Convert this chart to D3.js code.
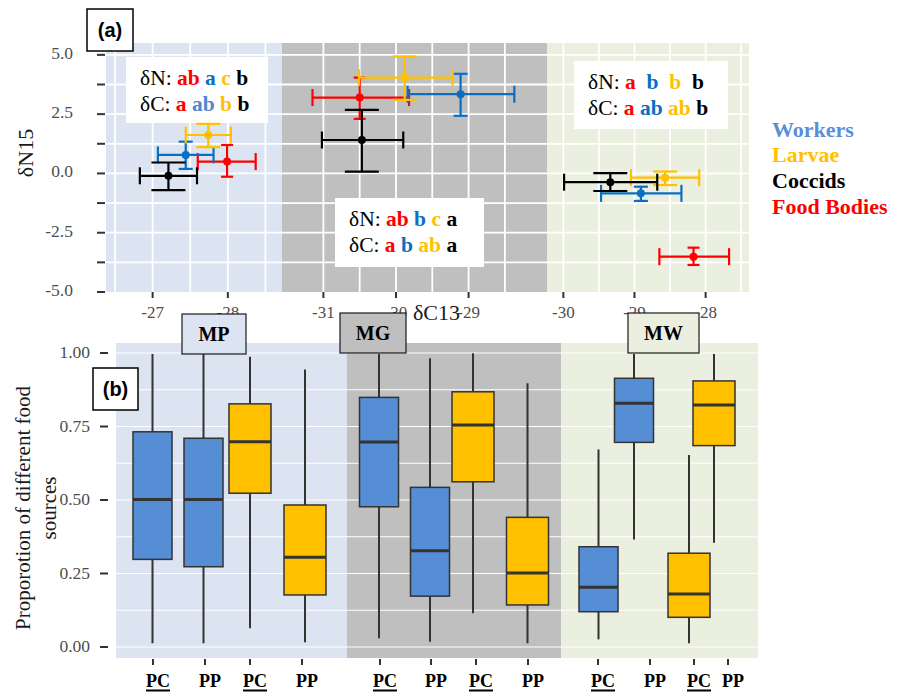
<!DOCTYPE html>
<html>
<head>
<meta charset="utf-8">
<script src="https://cdn.jsdelivr.net/npm/d3@7"></script>
<style>
  body { margin: 0; background: #fff; }
</style>
</head>
<body>
<svg id="chart" width="898" height="693" font-family="Liberation Serif, DejaVu Serif, serif"></svg>
<script>
// ---------- data ----------
const sites = ["MP", "MG", "MW"];
const groups = ["Food Bodies", "Workers", "Larvae", "Coccids"];

// isotope means per group: [d13C, d13C err a, d13C err b, d15N, d15N low, d15N high]
const isoMP = [
  [-27.99, -27.60, -28.37, 0.50, -0.14, 1.20],
  [-27.44, -27.07, -27.81, 0.78, 0.19, 1.34],
  [-27.74, -27.44, -28.04, 1.62, 1.11, 2.09],
  [-27.21, -26.83, -27.59, -0.10, -0.70, 0.46]
];
const isoMG = [
  [-30.50, -31.15, -29.82, 3.20, 2.30, 4.04],
  [-29.11, -29.84, -28.37, 3.34, 2.43, 4.20],
  [-29.88, -30.51, -29.22, 4.04, 3.10, 4.93],
  [-30.47, -31.02, -29.90, 1.41, 0.08, 2.68]
];
const isoMW = [
  [-28.17, -28.65, -27.67, -3.51, -3.86, -3.13],
  [-28.91, -29.47, -28.34, -0.84, -1.16, -0.56],
  [-28.57, -29.05, -28.09, -0.18, -0.49, 0.08],
  [-29.34, -29.99, -28.68, -0.37, -0.74, 0.01]
];
const xDomains = [[-26.38, -28.72], [-31.57, -27.92], [-30.23, -27.39]];
const xTicksTop = [[-27, -28], [-31, -30, -29], [-30, -29, -28]];
const yTicksTop = [-5, -3.75, -2.5, -1.25, 0, 1.25, 2.5, 3.75, 5];

// significance letters, order: food bodies, workers, larvae, coccids
const lettersN = [["ab", "a", "c", "b"], ["ab", "b", "c", "a"], ["a", "b", "b", "b"]];
const lettersC = [["a", "ab", "b", "b"], ["a", "b", "ab", "a"], ["a", "ab", "ab", "b"]];

// box plots: [whisker low, Q1, median, Q3, whisker high]
const boxLabels = ["PC", "PP", "PC", "PP"];
const boxGroups = ["Workers", "Workers", "Larvae", "Larvae"];
const boxMP = [
  [0.013, 0.298, 0.502, 0.732, 0.997],
  [0.013, 0.273, 0.502, 0.710, 0.997],
  [0.064, 0.523, 0.698, 0.827, 0.987],
  [0.016, 0.177, 0.305, 0.483, 0.944]
];
const boxMG = [
  [0.030, 0.477, 0.697, 0.849, 0.997],
  [0.018, 0.173, 0.327, 0.543, 0.982],
  [0.115, 0.562, 0.755, 0.868, 0.999],
  [0.013, 0.143, 0.252, 0.441, 0.897]
];
const boxMW = [
  [0.026, 0.120, 0.203, 0.341, 0.672],
  [0.366, 0.696, 0.829, 0.914, 0.997],
  [0.013, 0.101, 0.180, 0.319, 0.653],
  [0.355, 0.685, 0.823, 0.905, 0.997]
];
const boxPos = [[1.00, 2.02, 2.95, 4.05], [5.53, 6.55, 7.41, 8.50], [9.92, 10.63, 11.73, 12.23]];
const boxTickPos = [[1.01, 2.05, 2.95, 3.99], [5.55, 6.57, 7.47, 8.51], [9.91, 10.95, 11.83, 12.51]];
const panelEdges = [0.27, 4.89, 9.17, 13.11];
const yTicksBox = [0, 0.25, 0.5, 0.75, 1];

// ---------- styles ----------
const panelFill = { MP: "#dbe4f0", MG: "#bfbfbf", MW: "#ebefdf" };
const pointColor = { "Food Bodies": "#ff0000", "Workers": "#0a6fc2", "Larvae": "#ffc000", "Coccids": "#000000" };
const legendColor = { "Workers": "#5a8fd6", "Larvae": "#ffc000", "Coccids": "#000000", "Food Bodies": "#ff0000" };
const boxFill = { "Workers": "#558ed5", "Larvae": "#ffc000" };
const boxWidth = { "Workers": 39, "Larvae": 42 };
const capW = { "Food Bodies": 12, "Workers": 14, "Larvae": 24, "Coccids": 34 };

const svg = d3.select("#chart");

// ================= panel (a) =================
const topX = [[106, 282], [282, 547], [547, 749]];
const yTop = d3.scaleLinear().domain([-5, 5.5]).range([292, 43]);
const isoData = [isoMP, isoMG, isoMW];

const annoBoxes = [
  { x: 126, y: 57, w: 142, h: 66, gapN: " ", gapC: " " },
  { x: 335, y: 198, w: 149, h: 69, gapN: " ", gapC: " " },
  { x: 574, y: 61, w: 154, h: 68, gapN: "  ", gapC: " " }
];

const gTop = svg.append("g");

sites.forEach((site, i) => {
  const xs = d3.scaleLinear().domain(xDomains[i]).range(topX[i]);
  const g = gTop.append("g");
  g.append("rect")
    .attr("x", topX[i][0]).attr("y", yTop(5.5))
    .attr("width", topX[i][1] - topX[i][0]).attr("height", yTop(-5) - yTop(5.5))
    .attr("fill", panelFill[site]);

  const lo = d3.min(xDomains[i]), hi = d3.max(xDomains[i]);
  const vGrid = d3.range(Math.ceil(lo * 2) / 2, hi, 0.5)
    .filter(d => xs(d) > d3.min(topX[i]) + 6.5 && xs(d) < d3.max(topX[i]) - 6.5);
  g.selectAll(".vg").data(vGrid).enter().append("line")
    .attr("x1", d => xs(d)).attr("x2", d => xs(d))
    .attr("y1", yTop(5.5)).attr("y2", yTop(-5))
    .attr("stroke", "#fff").attr("stroke-width", 1.8);
  g.selectAll(".hg").data(yTicksTop.filter(d => d > -5)).enter().append("line")
    .attr("x1", topX[i][0]).attr("x2", topX[i][1])
    .attr("y1", d => yTop(d)).attr("y2", d => yTop(d))
    .attr("stroke", "#fff").attr("stroke-width", 1.8);

  // x ticks
  g.selectAll(".xt").data(xTicksTop[i]).enter().append("line")
    .attr("x1", d => xs(d)).attr("x2", d => xs(d))
    .attr("y1", 292).attr("y2", 298)
    .attr("stroke", "#333").attr("stroke-width", 2);
  g.selectAll(".xl").data(xTicksTop[i]).enter().append("text")
    .attr("x", d => xs(d)).attr("y", 318)
    .attr("text-anchor", "middle").attr("font-size", 17).attr("fill", "#4d4d4d")
    .text(d => d3.format("d")(d).replace("\u2212", "-"));

  // annotation box
  const ab = annoBoxes[i];
  g.append("rect").attr("x", ab.x).attr("y", ab.y).attr("width", ab.w).attr("height", ab.h)
    .attr("fill", "#fff");
  [["\u03b4N:", lettersN[i], 28, ab.gapN], ["\u03b4C:", lettersC[i], 54, ab.gapC]].forEach(([lab, lets, dy, gap]) => {
    const t = g.append("text").attr("x", ab.x + 14).attr("y", ab.y + dy)
      .attr("font-size", 21.5).style("white-space", "pre");
    t.append("tspan").attr("fill", "#000").text(lab);
    lets.forEach((l, k) => {
      let col = pointColor[groups[k]];
      if (i === 0 && lab === "\u03b4C:" && k === 1) col = "#4f86cf";
      t.append("tspan").attr("fill", col).attr("font-weight", "bold").text((k === 0 ? " " : gap) + l);
    });
  });

  // error bars and points
  const pts = isoData[i].map((r, k) => ({ g: groups[k], c: r[0], c1: r[1], c2: r[2], n: r[3], n1: r[4], n2: r[5] }));
  const pg = g.selectAll(".pt").data(pts).enter().append("g")
    .attr("stroke", d => pointColor[d.g]).attr("fill", d => pointColor[d.g]).attr("stroke-width", 2.2);
  // horizontal (d13C)
  pg.append("line").attr("x1", d => xs(d.c1)).attr("x2", d => xs(d.c2))
    .attr("y1", d => yTop(d.n)).attr("y2", d => yTop(d.n));
  pg.append("line").attr("x1", d => xs(d.c1)).attr("x2", d => xs(d.c1))
    .attr("y1", d => yTop(d.n) - 8.5).attr("y2", d => yTop(d.n) + 8.5);
  pg.append("line").attr("x1", d => xs(d.c2)).attr("x2", d => xs(d.c2))
    .attr("y1", d => yTop(d.n) - 8.5).attr("y2", d => yTop(d.n) + 8.5);
  // vertical (d15N)
  pg.append("line").attr("x1", d => xs(d.c)).attr("x2", d => xs(d.c))
    .attr("y1", d => yTop(d.n1)).attr("y2", d => yTop(d.n2));
  pg.append("line").attr("x1", d => xs(d.c) - capW[d.g] / 2).attr("x2", d => xs(d.c) + capW[d.g] / 2)
    .attr("y1", d => yTop(d.n1)).attr("y2", d => yTop(d.n1));
  pg.append("line").attr("x1", d => xs(d.c) - capW[d.g] / 2).attr("x2", d => xs(d.c) + capW[d.g] / 2)
    .attr("y1", d => yTop(d.n2)).attr("y2", d => yTop(d.n2));
  pg.append("circle").attr("cx", d => xs(d.c)).attr("cy", d => yTop(d.n)).attr("r", 4).attr("stroke", "none");
});

// y axis (a)
gTop.selectAll(".yt").data(yTicksTop).enter().append("line")
  .attr("x1", 97).attr("x2", 105).attr("y1", d => yTop(d)).attr("y2", d => yTop(d))
  .attr("stroke", "#333").attr("stroke-width", 2);
gTop.selectAll(".yl").data(yTicksTop.filter(d => d % 2.5 === 0)).enter().append("text")
  .attr("x", 73).attr("y", d => yTop(d) + 4).attr("text-anchor", "end")
  .attr("font-size", 17.5).attr("fill", "#4d4d4d")
  .text(d => d3.format(".1f")(d).replace("\u2212", "-"));
gTop.append("text").attr("transform", "translate(33,153) rotate(-90)")
  .attr("text-anchor", "middle").attr("font-size", 22).attr("fill", "#1a1a1a").text("\u03b4N15");
gTop.append("text").attr("x", 413).attr("y", 320).attr("font-size", 22).attr("fill", "#1a1a1a").text("\u03b4C13");

// legend
const legOrder = ["Workers", "Larvae", "Coccids", "Food Bodies"];
gTop.selectAll(".leg").data(legOrder).enter().append("text")
  .attr("x", 772).attr("y", (d, k) => 136.5 + k * 25.8)
  .attr("font-size", 22).attr("font-weight", "bold")
  .attr("fill", d => legendColor[d]).text(d => d);

// ================= panel (b) =================
const xb = d3.scaleLinear().domain([0, 13]).range([102.5, 752.5]);
const yb = d3.scaleLinear().domain([0, 1]).range([647, 353]);
const boxData = [boxMP, boxMG, boxMW];
const gB = svg.append("g");

sites.forEach((site, i) => {
  gB.append("rect")
    .attr("x", xb(panelEdges[i])).attr("y", 343)
    .attr("width", xb(panelEdges[i + 1]) - xb(panelEdges[i])).attr("height", 315)
    .attr("fill", panelFill[site]);
});
gB.selectAll(".bg").data(d3.range(0, 1.001, 0.125)).enter().append("line")
  .attr("x1", xb(panelEdges[0])).attr("x2", xb(panelEdges[3]))
  .attr("y1", d => yb(d)).attr("y2", d => yb(d))
  .attr("stroke", "#fff").attr("stroke-width", 1.2);

sites.forEach((site, i) => {
  const bx = boxData[i].map((r, k) => ({ g: boxGroups[k], pos: boxPos[i][k], lo: r[0], q1: r[1], med: r[2], q3: r[3], hi: r[4] }));
  const bg = gB.selectAll(".box" + i).data(bx).enter().append("g");
  bg.append("line").attr("x1", d => xb(d.pos)).attr("x2", d => xb(d.pos))
    .attr("y1", d => yb(d.hi)).attr("y2", d => yb(d.lo))
    .attr("stroke", "#333").attr("stroke-width", 2);
  bg.append("rect")
    .attr("x", d => xb(d.pos) - boxWidth[d.g] / 2).attr("width", d => boxWidth[d.g])
    .attr("y", d => yb(d.q3)).attr("height", d => yb(d.q1) - yb(d.q3))
    .attr("fill", d => boxFill[d.g]).attr("stroke", "#333").attr("stroke-width", 1.5);
  bg.append("line")
    .attr("x1", d => xb(d.pos) - boxWidth[d.g] / 2).attr("x2", d => xb(d.pos) + boxWidth[d.g] / 2)
    .attr("y1", d => yb(d.med)).attr("y2", d => yb(d.med))
    .attr("stroke", "#333").attr("stroke-width", 3);

  // x ticks and labels
  gB.selectAll(".bt" + i).data(boxTickPos[i]).enter().append("line")
    .attr("x1", d => xb(d)).attr("x2", d => xb(d)).attr("y1", 659).attr("y2", 665)
    .attr("stroke", "#333").attr("stroke-width", 2);
  boxTickPos[i].forEach((p, k) => {
    const t = gB.append("text").attr("x", xb(p) + 5).attr("y", 687)
      .attr("text-anchor", "middle").attr("font-size", 18).attr("font-weight", "bold")
      .text(boxLabels[k]);
    if (boxLabels[k] === "PC") {
      const w = t.node().getComputedTextLength();
      gB.append("line").attr("x1", xb(p) + 5 - w / 2).attr("x2", xb(p) + 5 + w / 2)
        .attr("y1", 690.5).attr("y2", 690.5).attr("stroke", "#000").attr("stroke-width", 2);
    }
  });
});

// y axis (b)
gB.selectAll(".byt").data(yTicksBox).enter().append("line")
  .attr("x1", 100).attr("x2", 108).attr("y1", d => yb(d)).attr("y2", d => yb(d))
  .attr("stroke", "#333").attr("stroke-width", 2);
gB.selectAll(".byl").data(yTicksBox).enter().append("text")
  .attr("x", 90).attr("y", d => yb(d) + 5).attr("text-anchor", "end")
  .attr("font-size", 17.5).attr("fill", "#4d4d4d").text(d => d3.format(".2f")(d));
const yLab = gB.append("text").attr("transform", "translate(30,508) rotate(-90)")
  .attr("text-anchor", "middle").attr("font-size", 21).attr("fill", "#1a1a1a");
yLab.append("tspan").attr("x", 0).attr("y", 0).text("Proporotion of different food");
yLab.append("tspan").attr("x", 0).attr("y", 26).text("sources");

// strips
const strips = [
  { x: 182, y: 314, w: 64, h: 40 },
  { x: 340, y: 313, w: 66, h: 40 },
  { x: 628, y: 313, w: 71, h: 40 }
];
sites.forEach((site, i) => {
  const s = strips[i];
  svg.append("rect").attr("x", s.x).attr("y", s.y).attr("width", s.w).attr("height", s.h)
    .attr("fill", panelFill[site]).attr("stroke", "#1a1a1a").attr("stroke-width", 1.2);
  svg.append("text").attr("x", s.x + s.w / 2).attr("y", s.y + 27)
    .attr("text-anchor", "middle").attr("font-size", 20).attr("font-weight", "bold").text(site);
});

// panel tags
[["(a)", 87, 9, 46, 42], ["(b)", 93, 368, 45, 42]].forEach(([lab, x, y, w, h]) => {
  svg.append("rect").attr("x", x).attr("y", y).attr("width", w).attr("height", h)
    .attr("fill", "#fff").attr("stroke", "#000").attr("stroke-width", 1.5);
  svg.append("text").attr("x", x + w / 2).attr("y", y + h / 2 + 7)
    .attr("text-anchor", "middle").attr("font-size", 20).attr("font-weight", "bold")
    .attr("font-family", "Liberation Sans, Arial, sans-serif").text(lab);
});
</script>
</body>
</html>
